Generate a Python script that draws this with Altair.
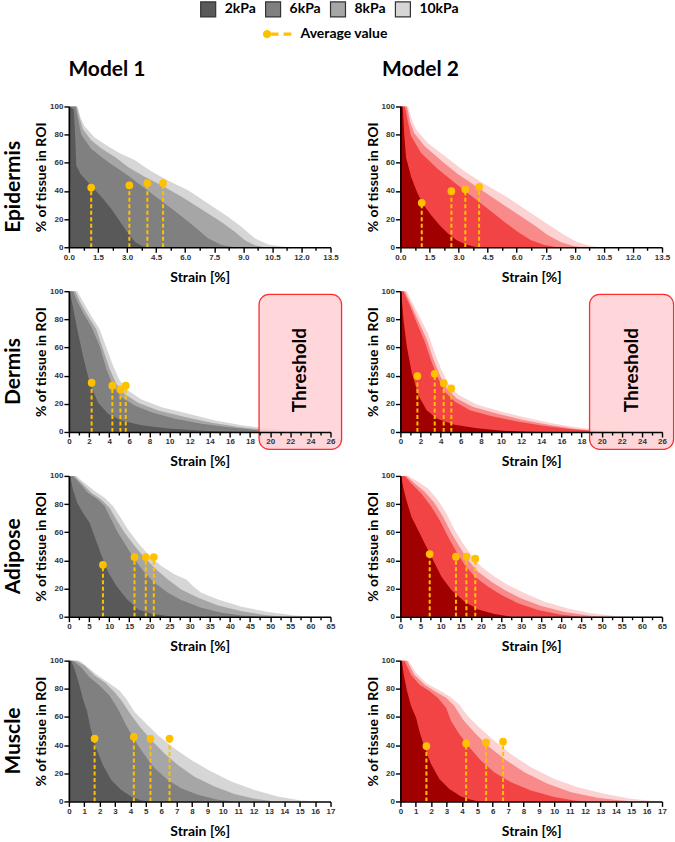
import altair as alt
import pandas as pd

KPA = ["2kPa", "6kPa", "8kPa", "10kPa"]
TISSUES = ["Epidermis", "Dermis", "Adipose", "Muscle"]
MODELS = ["Model 1", "Model 2"]
GREYS = ["#595959", "#808080", "#a6a6a6", "#d6d6d6"]
REDS = ["#a00000", "#f24444", "#f98a8a", "#fcd2d3"]
GOLD = "#ffc000"

# x tick labels per tissue row, y tick labels
EPI_TICKS = [0.0, 1.5, 3.0, 4.5, 6.0, 7.5, 9.0, 10.5, 12.0, 13.5]
DER_TICKS = [0, 2, 4, 6, 8, 10, 12, 14, 16, 18, 20, 22, 24, 26]
ADI_TICKS = [0, 5, 10, 15, 20, 25, 30, 35, 40, 45, 50, 55, 60, 65]
MUS_TICKS = [0, 1, 2, 3, 4, 5, 6, 7, 8, 9, 10, 11, 12, 13, 14, 15, 16, 17]
Y_TICKS = [0, 20, 40, 60, 80, 100]

# ---- curves: stiffness -> (strain %, % of tissue in ROI) ----
EPIDERMIS_M1 = {
    "2kPa": ([0, 0.25, 0.32, 0.38, 0.6, 1.0, 1.4, 1.8, 2.2, 2.6, 3.0, 3.4, 3.8, 4.1],
             [100, 98, 80, 58, 52, 46, 40, 34, 27, 19, 11, 4, 0.8, 0]),
    "6kPa": ([0, 0.35, 0.5, 0.64, 1.15, 1.7, 2.19, 3.05, 3.91, 4.77, 5.63, 6.49, 7.18, 7.87, 8.56],
             [100, 100, 89, 80, 70, 64, 59, 51, 42, 33, 24, 14.6, 6.4, 1.6, 0]),
    "8kPa": ([0, 0.4, 0.55, 0.72, 1.15, 1.7, 2.4, 3.05, 3.91, 4.77, 5.8, 6.84, 7.87, 8.56, 9.08, 9.59, 10.1],
             [100, 100, 92, 84, 76, 70, 64, 57, 50, 44, 36, 27, 18, 11, 5, 1.5, 0]),
    "10kPa": ([0, 0.45, 0.6, 0.81, 1.33, 2.0, 2.6, 3.39, 4.25, 5.11, 6.15, 7.18, 8.21, 8.9, 9.59, 10.28, 10.97, 11.5],
              [100, 100, 92, 86, 78, 72, 67, 62, 54, 47.5, 40.5, 31, 21.6, 14.6, 6.4, 2, 0.5, 0]),
}
EPIDERMIS_M2 = {
    "2kPa": ([0, 0.12, 0.2, 0.29, 0.55, 0.89, 1.2, 1.58, 2.0, 2.44, 2.9, 3.3, 3.7, 4.0],
             [100, 100, 80, 64, 50, 38, 30, 23, 16, 10, 5, 2.5, 0.8, 0]),
    "6kPa": ([0, 0.24, 0.4, 0.55, 1.07, 1.93, 2.79, 3.65, 4.51, 5.37, 6.05, 6.74, 7.43, 8.12],
             [100, 100, 88, 79, 67, 55.5, 46, 36.5, 27.4, 18, 11, 5, 1.6, 0]),
    "8kPa": ([0, 0.34, 0.5, 0.72, 1.24, 2.1, 2.96, 3.82, 4.85, 5.88, 6.91, 7.6, 8.29, 8.99, 9.49],
             [100, 100, 89, 81, 72, 61.6, 52, 44, 34.4, 25, 15.7, 8.7, 3.5, 0.7, 0]),
    "10kPa": ([0, 0.41, 0.58, 0.81, 1.41, 2.27, 3.3, 4.33, 5.37, 6.4, 7.43, 8.46, 9.15, 9.84, 10.35],
              [100, 100, 91, 83.6, 74, 65, 54, 45, 36.8, 27.4, 18, 8.7, 3.5, 0.7, 0]),
}
DERMIS_M1 = {
    "2kPa": ([0, 0.07, 0.4, 0.83, 1.4, 2.06, 2.89, 3.89, 5.22, 7.21, 9.87, 13.2, 16.5, 18.5],
             [100, 100, 89, 73, 54, 35, 21, 13, 8.2, 4.7, 2.4, 0.9, 0.2, 0]),
    "6kPa": ([0, 0.4, 0.9, 1.4, 2.23, 3.06, 3.72, 4.39, 5.22, 6.55, 8.21, 10.54, 13.2, 15.86, 18.5, 20.8, 22.5],
             [100, 100, 91.8, 84.7, 75, 61, 44.7, 32.9, 24.7, 18.8, 14, 9.4, 5.9, 3.3, 1.4, 0.2, 0]),
    "8kPa": ([0, 0.63, 1.23, 1.9, 2.73, 3.39, 4.06, 4.72, 5.55, 6.88, 8.88, 11.54, 14.2, 16.86, 19.5, 21.8, 23.2],
             [100, 100, 90.6, 82.4, 73, 58.8, 44.7, 34, 27, 20.7, 15.3, 10.6, 6.6, 3.5, 1.4, 0.2, 0]),
    "10kPa": ([0, 0.83, 1.56, 2.23, 3.06, 3.72, 4.39, 5.05, 5.88, 7.21, 9.21, 11.87, 14.53, 17.19, 19.85, 22.17, 24.17, 25.5],
              [100, 100, 90.6, 82.4, 73, 60, 47, 36.5, 29.4, 23, 17.6, 12.9, 8.2, 4.7, 2.4, 0.9, 0.2, 0]),
}
DERMIS_M2 = {
    "2kPa": ([0, 0.07, 0.3, 0.63, 1.12, 1.79, 2.61, 3.61, 5.26, 7.58, 10.2, 12.9, 14.5],
             [100, 100, 80, 61, 42.5, 26, 15.5, 9.6, 5.4, 2.6, 0.9, 0.2, 0]),
    "6kPa": ([0, 0.3, 0.96, 1.62, 2.45, 3.11, 3.77, 4.43, 5.43, 6.91, 8.9, 11.5, 14.2, 16.8, 19.15, 20.8],
             [100, 100, 89.4, 77.7, 63.6, 49.5, 37.8, 28.4, 21.4, 15.5, 11.5, 7.7, 4.5, 2.1, 0.7, 0]),
    "8kPa": ([0, 0.46, 1.12, 1.79, 2.61, 3.27, 3.94, 4.6, 5.59, 7.24, 9.56, 12.2, 14.85, 17.5, 19.8, 21.5],
             [100, 100, 89.4, 78.9, 66, 51.9, 40, 30.8, 23.7, 17.8, 13.1, 8.5, 4.9, 2.1, 0.7, 0]),
    "10kPa": ([0, 0.63, 1.29, 1.95, 2.78, 3.44, 4.1, 4.76, 5.76, 7.58, 9.89, 12.54, 15.18, 17.83, 20.5, 22.8, 24.1],
              [100, 100, 90.6, 81.2, 69.5, 55.4, 43.7, 34.3, 26.5, 19.5, 14.8, 10.1, 6.1, 3, 1.2, 0.2, 0]),
}
ADIPOSE_M1 = {
    "2kPa": ([0, 0.3, 1, 2.07, 3.48, 5.14, 6.38, 8.04, 9.7, 11.77, 14.26, 17.16, 20.5, 24.6, 27.9],
             [100, 100, 90.4, 81, 73.8, 66.7, 57, 44, 32, 22, 13, 5.2, 2.1, 0.5, 0]),
    "6kPa": ([0, 1, 2.65, 4.73, 7.21, 8.87, 10.53, 12.19, 14.26, 16.33, 18.82, 21.3, 24.6, 27.9, 32.9, 37.9, 42.9, 47.8],
             [100, 100, 95, 88, 83.3, 78.6, 69, 59.6, 50.2, 40.7, 31.2, 24.1, 17, 11.8, 6.4, 2.8, 0.9, 0]),
    "8kPa": ([0, 1.4, 3.48, 5.56, 8.04, 10.1, 11.77, 13.85, 16.33, 18.82, 21.7, 24.6, 27.9, 32.1, 37.1, 42.9, 48.7, 53.6],
             [100, 100, 94, 88, 83.3, 77.4, 69, 59.6, 50.2, 41.9, 33.6, 26.5, 19.4, 13.5, 8, 3.8, 1.2, 0]),
    "10kPa": ([0, 1.82, 3.9, 6.38, 8.87, 10.95, 12.6, 14.68, 17.16, 19.65, 22.97, 26.3, 29.2, 30.8, 32.9, 37.1, 42.9, 49.5, 56.1, 61.1],
              [100, 100, 95, 89.2, 84.5, 78.6, 71.5, 62, 52.5, 44.3, 36, 30, 26.5, 21.8, 17, 12.3, 7.1, 3.3, 0.9, 0]),
}
ADIPOSE_M2 = {
    "2kPa": ([0, 0.2, 0.66, 1.49, 2.73, 4.39, 6.04, 8.11, 10.2, 12.67, 16, 19.3, 23.4, 27.6],
             [100, 100, 92.3, 82.8, 71, 61.5, 52, 40.2, 28.4, 18.9, 10.7, 5.2, 1.9, 0]),
    "6kPa": ([0, 1.08, 2.73, 5.2, 7.7, 9.77, 11.84, 13.9, 16, 18.5, 21.8, 25.1, 29.2, 34.2, 40, 45],
             [100, 100, 94.7, 87.6, 78.1, 68.6, 56.8, 46.2, 36.7, 28.4, 21.3, 15.4, 9.5, 4.7, 1.4, 0]),
    "8kPa": ([0, 1.49, 3.56, 6.04, 8.53, 10.6, 12.67, 14.7, 16.8, 19.3, 22.6, 25.9, 30.05, 35, 40.8, 46.6, 50.7],
             [100, 100, 94.7, 88.8, 80.5, 71, 59.2, 49.7, 40.2, 32, 24.9, 18.9, 13, 7.6, 3.3, 0.9, 0]),
    "10kPa": ([0, 1.9, 4.39, 6.87, 9.35, 11.4, 13.5, 15.56, 17.6, 20.1, 23.4, 26.7, 30.9, 35.8, 41.6, 47.4, 53.2, 57.4],
              [100, 100, 95.9, 91.1, 82.8, 73.4, 61.5, 52, 43.8, 35.5, 28.4, 22.5, 16.6, 10.7, 5.9, 2.4, 0.5, 0]),
}
MUSCLE_M1 = {
    "2kPa": ([0, 0.15, 0.37, 0.63, 0.91, 1.19, 1.41, 1.78, 2.21, 2.75, 3.4, 4.05, 4.7, 5.35],
             [100, 100, 94, 84.7, 72.9, 63.5, 51.8, 37.6, 25.9, 15.3, 8.2, 3.5, 0.7, 0]),
    "6kPa": ([0, 0.26, 0.8, 1.34, 1.99, 2.64, 3.18, 3.72, 4.27, 4.92, 5.57, 6.43, 7.3, 8.38, 9.68, 10.76],
             [100, 100, 95.3, 88.2, 82.4, 75.3, 65.9, 54.1, 43.5, 32.9, 23.5, 15.3, 9.4, 4.7, 1.2, 0]),
    "8kPa": ([0, 0.48, 1.02, 1.67, 2.32, 2.97, 3.4, 4.05, 4.7, 5.46, 6.21, 7.08, 8.16, 9.46, 10.76, 12.06, 13.36],
             [100, 100, 96.5, 89.4, 84.7, 77.6, 71.8, 61.2, 51.8, 42.4, 34.1, 25.9, 17.6, 10.6, 5.2, 1.9, 0]),
    "10kPa": ([0, 0.69, 1.23, 1.88, 2.53, 3.29, 3.72, 4.27, 4.92, 5.78, 6.86, 7.95, 9.25, 10.55, 12.06, 13.58, 15.09, 16.39],
              [100, 100, 95.3, 89.4, 84.7, 78.8, 72.9, 63.5, 56.5, 47, 37.6, 29.4, 21.2, 14.1, 8.2, 3.5, 0.7, 0]),
}
MUSCLE_M2 = {
    "2kPa": ([0, 0.09, 0.22, 0.43, 0.69, 1.02, 1.23, 1.56, 1.99, 2.53, 3.18, 3.94, 4.59, 5.13],
             [100, 100, 90, 78.4, 67.8, 59.5, 50.1, 38.4, 26.6, 16, 8.9, 3.5, 1.2, 0]),
    "6kPa": ([0, 0.26, 0.69, 1.23, 1.88, 2.43, 2.97, 3.29, 3.83, 4.48, 5.24, 6.1, 7.19, 8.49, 10, 11.3, 11.95],
             [100, 100, 90, 83, 78.4, 73.6, 66.6, 57.2, 47.8, 38.4, 28.9, 20.7, 13.6, 7.8, 3.1, 0.7, 0]),
    "8kPa": ([0, 0.43, 0.91, 1.56, 2.21, 2.97, 3.51, 4.05, 4.81, 5.67, 6.76, 8.06, 9.57, 11.09, 12.82, 14.34, 15.2],
             [100, 100, 90, 83, 78.4, 73.6, 67.8, 58.4, 49, 39.5, 30.1, 20.7, 12.5, 6.6, 2.6, 0.7, 0]),
    "10kPa": ([0, 0.52, 1.02, 1.67, 2.43, 3.18, 3.83, 4.37, 5.13, 6.1, 7.19, 8.49, 10, 11.52, 13.25, 14.98, 16.28, 17],
              [100, 100, 91.3, 84.2, 79.5, 74.8, 68.9, 60.7, 52.5, 43.1, 33.6, 24.2, 16, 10.1, 5.4, 1.9, 0.5, 0]),
}

# ---- average values (strain, %) for 2, 6, 8, 10 kPa ----
EPIDERMIS_M1_AVG_X = [1.15, 3.12, 4.05, 4.86]
EPIDERMIS_M1_AVG_Y = [42.4, 44, 45.6, 45.6]
EPIDERMIS_M2_AVG_X = [1.1, 2.63, 3.35, 4.06]
EPIDERMIS_M2_AVG_Y = [31.6, 39.8, 41.2, 42.9]
DERMIS_M1_AVG_X = [2.26, 4.32, 5.12, 5.65]
DERMIS_M1_AVG_Y = [35, 32.9, 30.1, 32.9]
DERMIS_M2_AVG_X = [1.69, 3.41, 4.3, 5.06]
DERMIS_M2_AVG_Y = [39.7, 41.3, 34.7, 31]
ADIPOSE_M1_AVG_X = [8.46, 16.3, 19.1, 21.1]
ADIPOSE_M1_AVG_Y = [36.9, 42.4, 42.4, 42.4]
ADIPOSE_M2_AVG_X = [7.28, 13.8, 16.4, 18.6]
ADIPOSE_M2_AVG_Y = [44.5, 42.6, 42.6, 41.2]
MUSCLE_M1_AVG_X = [1.67, 4.22, 5.3, 6.54]
MUSCLE_M1_AVG_Y = [44.7, 45.9, 44.7, 44.7]
MUSCLE_M2_AVG_X = [1.69, 4.27, 5.57, 6.67]
MUSCLE_M2_AVG_Y = [39.3, 41.2, 41.9, 42.4]

# ---- dermis threshold region (strain range, % range) ----
THRESH_LABEL = "Threshold"
THRESH_M1_X = [18.9, 27.1]
THRESH_M2_X = [18.8, 27.15]
THRESH_Y = [-12.3, 97.7]
THRESH_TEXT_Y = 44

PANELS = {
    ("Epidermis", "Model 1"): (EPIDERMIS_M1, EPIDERMIS_M1_AVG_X, EPIDERMIS_M1_AVG_Y),
    ("Epidermis", "Model 2"): (EPIDERMIS_M2, EPIDERMIS_M2_AVG_X, EPIDERMIS_M2_AVG_Y),
    ("Dermis", "Model 1"): (DERMIS_M1, DERMIS_M1_AVG_X, DERMIS_M1_AVG_Y),
    ("Dermis", "Model 2"): (DERMIS_M2, DERMIS_M2_AVG_X, DERMIS_M2_AVG_Y),
    ("Adipose", "Model 1"): (ADIPOSE_M1, ADIPOSE_M1_AVG_X, ADIPOSE_M1_AVG_Y),
    ("Adipose", "Model 2"): (ADIPOSE_M2, ADIPOSE_M2_AVG_X, ADIPOSE_M2_AVG_Y),
    ("Muscle", "Model 1"): (MUSCLE_M1, MUSCLE_M1_AVG_X, MUSCLE_M1_AVG_Y),
    ("Muscle", "Model 2"): (MUSCLE_M2, MUSCLE_M2_AVG_X, MUSCLE_M2_AVG_Y),
}
ROW_TICKS = {"Epidermis": (EPI_TICKS, ".1f"), "Dermis": (DER_TICKS, "d"),
             "Adipose": (ADI_TICKS, "d"), "Muscle": (MUS_TICKS, "d")}

W, H = 262, 141
FONT = "Lato"
TICKFONT = "Liberation Sans"

AVG_PATH = ("M -0.98 0 A 0.29 0.29 0 1 0 -0.40 0 A 0.29 0.29 0 1 0 -0.98 0 Z "
            "M -0.42 -0.115 L 0.10 -0.115 L 0.10 0.115 L -0.42 0.115 Z "
            "M 0.45 -0.115 L 0.98 -0.115 L 0.98 0.115 L 0.45 0.115 Z")

legend_kpa = alt.Legend(orient="none", legendX=131, legendY=-106, direction="horizontal",
                        title=None, symbolType="square", symbolSize=225,
                        symbolStrokeColor="#333333", symbolStrokeWidth=1.2, symbolOpacity=1,
                        labelFont=FONT, labelFontSize=14, labelFontWeight="bold",
                        labelColor="black", labelOffset=8, columnPadding=6)
legend_avg = alt.Legend(orient="none", legendX=194, legendY=-87, title=None,
                        symbolSize=841, symbolFillColor=GOLD, symbolStrokeWidth=0,
                        symbolOpacity=1, labelFont=FONT, labelFontSize=14,
                        labelFontWeight="bold", labelColor="black", labelOffset=9)


def make_panel(tissue, model, r, c):
    curves, avg_x, avg_y = PANELS[(tissue, model)]
    ticks, fmt = ROW_TICKS[tissue]
    minor = [(a + b) / 2 for a, b in zip(ticks[:-1], ticks[1:])]
    allv = sorted([float(t) for t in ticks] + minor)
    major_js = "[" + ",".join(repr(float(t)) for t in ticks) + "]"
    test = f"indexof({major_js}, datum.value) >= 0"
    xscale = alt.Scale(domain=[ticks[0], ticks[-1]], nice=False, zero=False)
    yscale = alt.Scale(domain=[0, 100], nice=False)
    xaxis = alt.Axis(values=allv, title="Strain [%]", format=fmt,
                     labelExpr=f"{test} ? datum.label : ''",
                     tickSize={"condition": {"test": test, "value": 5}, "value": 3},
                     labelFlush=False, labelOverlap=False, grid=False, zindex=1,
                     titlePadding=9)
    yaxis = alt.Axis(values=Y_TICKS, title="% of tissue in ROI", tickSize=5,
                     grid=False, zindex=1, labelFlush=False, labelOverlap=False,
                     titlePadding=1)
    layers = []
    for k in reversed(KPA):
        xs, ys = curves[k]
        df = pd.DataFrame({"strain": xs, "pct": ys, "stiffness": k})
        enc = dict(x=alt.X("strain:Q", scale=xscale, axis=xaxis),
                   y=alt.Y("pct:Q", scale=yscale, axis=yaxis, stack=None))
        if model == "Model 1":
            enc["color"] = alt.Color("stiffness:N", scale=alt.Scale(domain=KPA, range=GREYS),
                                     legend=legend_kpa)
        else:
            enc["fill"] = alt.Fill("stiffness:N", scale=alt.Scale(domain=KPA, range=REDS),
                                   legend=None)
        layers.append(alt.Chart(df).mark_area(opacity=1, interpolate="linear").encode(**enc))

    avg_df = pd.DataFrame({"ax": avg_x, "ay": avg_y, "y0": [0] * len(avg_x), "stiffness": KPA})
    layers.append(alt.Chart(avg_df).mark_rule(color=GOLD, strokeWidth=2, strokeDash=[4, 2.5]).encode(
        x=alt.X("ax:Q", scale=xscale, axis=xaxis),
        y=alt.Y("y0:Q", scale=yscale, axis=yaxis), y2="ay:Q"))
    layers.append(alt.Chart(avg_df).mark_circle(color=GOLD, size=60, opacity=1).encode(
        x=alt.X("ax:Q", scale=xscale, axis=xaxis),
        y=alt.Y("ay:Q", scale=yscale, axis=yaxis)))

    if tissue == "Dermis":
        tx = THRESH_M1_X if model == "Model 1" else THRESH_M2_X
        thr = pd.DataFrame({"x1": [tx[0]], "x2": [tx[1]], "y1": [THRESH_Y[0]], "y2": [THRESH_Y[1]],
                            "tx": [(tx[0] + tx[1]) / 2], "ty": [THRESH_TEXT_Y], "label": [THRESH_LABEL]})
        layers.append(alt.Chart(thr).mark_rect(cornerRadius=10, fill="#ffcfd2", fillOpacity=0.85,
                                               stroke="#ff2f2f", strokeWidth=1.3).encode(
            x=alt.X("x1:Q", scale=xscale, axis=xaxis), x2="x2:Q",
            y=alt.Y("y1:Q", scale=yscale, axis=yaxis), y2="y2:Q"))
        layers.append(alt.Chart(thr).mark_text(angle=270, font=FONT, fontSize=19, fontWeight="bold",
                                               color="black").encode(
            x=alt.X("tx:Q", scale=xscale, axis=xaxis),
            y=alt.Y("ty:Q", scale=yscale, axis=yaxis), text="label:N"))

    if c == 0:
        layers.append(alt.Chart(pd.DataFrame({"t": [tissue]})).mark_text(
            angle=270, font=FONT, fontSize=21, fontWeight="bold", color="black",
            align="center", baseline="middle").encode(
            x=alt.value(-55.2), y=alt.value(H / 2 + 10), text="t:N"))
    if r == 0:
        layers.append(alt.Chart(pd.DataFrame({"m": [model]})).mark_text(
            font=FONT, fontSize=21, fontWeight="bold", color="black",
            align="left", baseline="middle").encode(
            x=alt.value(-0.5 if c == 0 else -18.5), y=alt.value(-37), text="m:N"))
    if r == 0 and c == 0:
        layers.append(alt.Chart(pd.DataFrame({"lbl": ["Average value"]})).transform_filter("false")
                      .mark_point(filled=True, color=GOLD, opacity=1).encode(
            shape=alt.Shape("lbl:N", scale=alt.Scale(domain=["Average value"], range=[AVG_PATH]),
                            legend=legend_avg)))
    return alt.layer(*layers).properties(width=W, height=H)


panels = []
for r, t in enumerate(TISSUES):
    for c, m in enumerate(MODELS):
        panels.append(make_panel(t, m, r, c))

chart = alt.concat(*panels, columns=2, spacing={"row": 44, "column": 70}, bounds="flush").resolve_scale(
    x="independent", y="independent", color="shared", shape="shared"
).properties(padding={"left": 2, "top": 0, "right": 0, "bottom": 4}).configure_view(
    stroke=None
).configure_axis(
    domainColor="black", domainWidth=1.6, tickColor="black", tickWidth=1.4,
    labelFont=TICKFONT, labelFontSize=8, labelFontWeight="bold", labelColor="#333333",
    labelPadding=1, titleFont=FONT, titleFontSize=14, titleFontWeight="bold", titleColor="black"
)

chart.save("out.html", embed_options={"renderer": "svg", "actions": False})
